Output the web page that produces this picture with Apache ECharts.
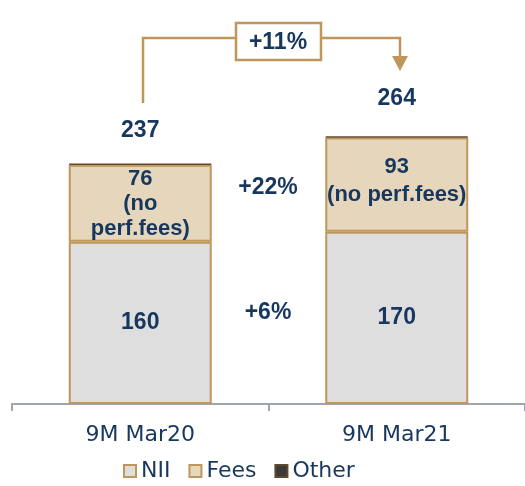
<!DOCTYPE html>
<html>
<head>
<meta charset="utf-8">
<script src="https://cdn.jsdelivr.net/npm/echarts@6/dist/echarts.min.js"></script>
<style>
  html, body { margin: 0; padding: 0; background: #fff; }
  #main { width: 525px; height: 486px; }
</style>
</head>
<body>
<div id="main"></div>
<script>
// data
const categories = ["9M Mar20", "9M Mar21"];
const nii = [160, 170];
const fees = [76, 93];
const other = [1, 1];
const totals = [237, 264];
const feeLabels = ["76\n(no\nperf.fees)", "93\n(no perf.fees)"];

const navy = "#17375e";
const gold = "#c0975a";
const font = "DejaVu Sans";
const boldFont = "Liberation Sans";

const chart = echarts.init(document.getElementById("main"));

chart.setOption({
  animation: false,
  textStyle: { fontFamily: font },
  grid: { left: 12, right: 0, top: 100, bottom: 82 },
  legend: {
    left: 118,
    top: 455,
    icon: "rect",
    itemWidth: 12,
    itemHeight: 12,
    itemGap: 18,
    textStyle: { color: navy, fontSize: 22, fontFamily: font },
    data: ["NII", "Fees", "Other"],
  },
  xAxis: {
    type: "category",
    data: categories,
    axisLine: { lineStyle: { color: "#a0a3b0", width: 2 } },
    axisTick: { show: true, length: 7, lineStyle: { color: "#a0a3b0", width: 2 } },
    axisLabel: { color: navy, fontSize: 22, margin: 20, fontFamily: font },
  },
  yAxis: {
    type: "value",
    min: 0,
    max: 300,
    show: false,
    splitLine: { show: false },
  },
  series: [
    {
      name: "NII",
      type: "bar",
      stack: "t",
      barWidth: 143,
      data: nii,
      itemStyle: { color: "#dedede", borderColor: gold, borderWidth: 2 },
      label: {
        show: true,
        position: "inside",
        color: navy,
        fontFamily: boldFont,
        fontSize: 23,
        fontWeight: "bold",
      },
    },
    {
      name: "Fees",
      type: "bar",
      stack: "t",
      data: fees.map((v, i) => ({
        value: v,
        label: { formatter: feeLabels[i], offset: i === 1 ? [0, -4] : [0, 1], lineHeight: i === 1 ? 28 : 25 },
      })),
      itemStyle: { color: "#e6d6bb", borderColor: gold, borderWidth: 2 },
      label: {
        show: true,
        position: "inside",
        color: navy,
        fontFamily: boldFont,
        fontSize: 22,
        fontWeight: "bold",
      },
    },
    {
      name: "Other",
      type: "bar",
      stack: "t",
      data: other.map((v, i) => ({
        value: v,
        label: { formatter: String(totals[i]), distance: i === 1 ? 26 : 21 },
      })),
      itemStyle: { color: "#3a3a3a", borderColor: "#5e4a2e", borderWidth: 1.5 },
      label: {
        show: true,
        position: "top",
        color: navy,
        fontFamily: boldFont,
        fontSize: 23,
        fontWeight: "bold",
      },
    },
  ],
  graphic: [
    // +11% bracket
    {
      type: "polyline",
      shape: { points: [[143, 103], [143, 38], [400, 38], [400, 56]] },
      style: { stroke: gold, lineWidth: 2.5, fill: null },
    },
    {
      type: "polygon",
      shape: { points: [[392, 56], [408, 56], [400, 71]] },
      style: { fill: gold },
    },
    {
      type: "rect",
      shape: { x: 236, y: 23, width: 85, height: 37 },
      style: { fill: "#fff", stroke: gold, lineWidth: 2.5 },
    },
    {
      type: "text",
      x: 278,
      y: 43,
      style: {
        text: "+11%",
        fill: navy,
        font: "bold 23px " + boldFont,
        align: "center",
        verticalAlign: "middle",
      },
    },
    {
      type: "text",
      x: 268,
      y: 188,
      style: {
        text: "+22%",
        fill: navy,
        font: "bold 23px " + boldFont,
        align: "center",
        verticalAlign: "middle",
      },
    },
    {
      type: "text",
      x: 268,
      y: 313,
      style: {
        text: "+6%",
        fill: navy,
        font: "bold 23px " + boldFont,
        align: "center",
        verticalAlign: "middle",
      },
    },
  ],
});
</script>
</body>
</html>
